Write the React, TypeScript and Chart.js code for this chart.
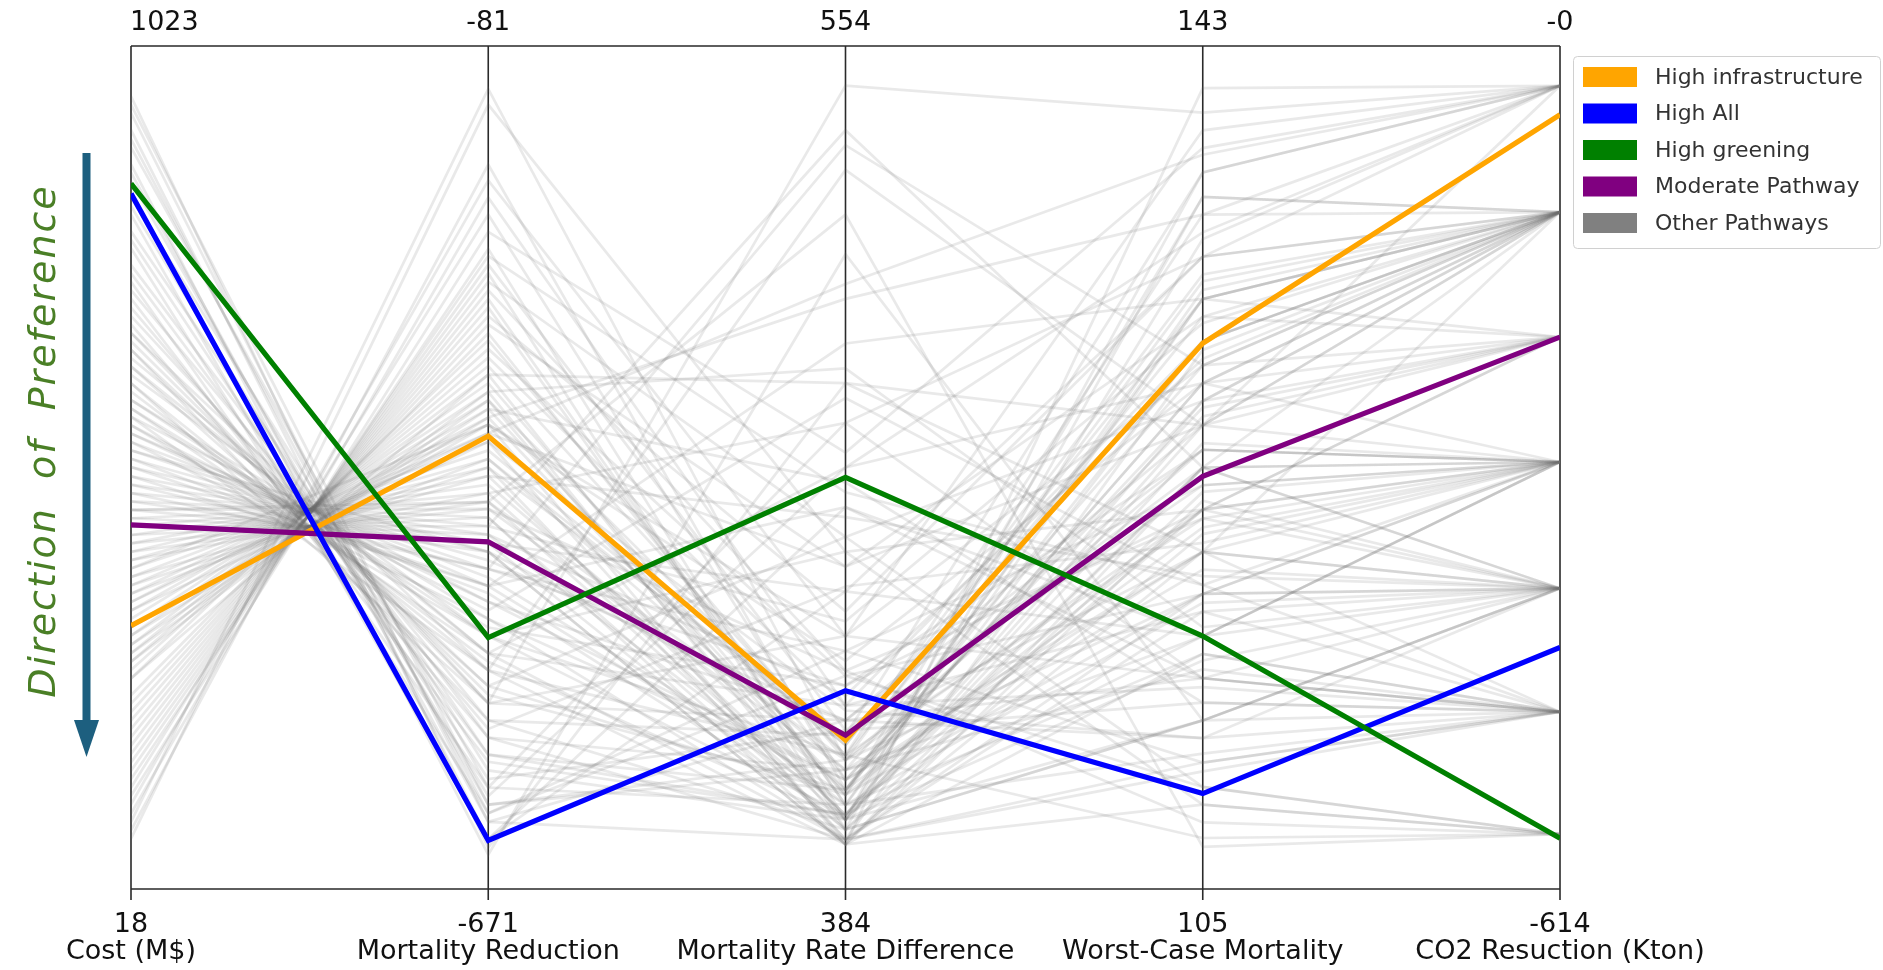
import React, { useEffect, useRef } from "react";
import { Chart, registerables } from "chart.js";

Chart.register(...registerables);

// ---------------- Data ----------------
const axisNames = [
  "Cost (M$)",
  "Mortality Reduction",
  "Mortality Rate Difference",
  "Worst-Case Mortality",
  "CO2 Resuction (Kton)",
];
const axisTopLabels = ["1023", "-81", "554", "143", "-0"];
const axisBottomLabels = ["18", "-671", "384", "105", "-614"];
const axisMax = [1023, -81, 554, 143, 0];
const axisMin = [18, -671, 384, 105, -614];

// Highlighted pathways: [cost, mortality reduction, rate difference, worst-case, CO2]
const highInfrastructure = [332, -354, 414, 129.6, -50];
const highAll = [847, -637, 424, 109.3, -438];
const highGreening = [859, -495, 467, 116.4, -577];
const moderatePathway = [452, -428, 415, 123.6, -212];

// Other pathways, one array per axis (same index = same pathway)
const otherCost = [
  963, 943, 923, 902, 882, 862, 842, 822, 802, 782, 762, 742, 732, 722, 701, 691, 681, 661,
  651, 641, 631, 621, 601, 591, 581, 571, 561, 551, 541, 531, 521, 510, 500, 490, 480, 470,
  460, 450, 440, 430, 420, 410, 400, 390, 380, 370, 360, 350, 340, 330, 320, 309, 299, 289,
  279, 269, 249, 229, 209, 189, 169, 149, 129, 108, 88, 621, 541, 470, 400, 681, 78, 98,
  953, 912, 872, 832, 792, 752, 711, 671, 611, 591, 571, 551, 531, 510, 490, 470, 450, 430,
  410, 390, 370, 350, 330, 309, 289, 269, 239, 219, 199, 179, 159, 139, 119, 641, 601, 521,
  460, 420, 380, 320, 480, 581, 360, 500, 440, 661, 299, 561,
];
const otherMortalityReduction = [
  -642, -624, -636, -600, -647, -612, -588, -636, -577, -618, -565, -600, -553, -582, -541, -565, -518, -553,
  -506, -529, -494, -518, -482, -506, -470, -494, -459, -482, -447, -464, -435, -459, -423, -447, -411, -429,
  -400, -417, -388, -405, -376, -394, -364, -382, -352, -370, -341, -358, -329, -346, -317, -335, -305, -323,
  -293, -311, -282, -270, -258, -246, -234, -223, -211, -187, -164, -541, -435, -400, -346, -541, -122, -111,
  -612, -618, -624, -606, -594, -577, -559, -535, -512, -488, -476, -453, -441, -429, -417, -405, -394, -382,
  -370, -358, -346, -335, -323, -311, -299, -287, -276, -264, -252, -240, -228, -199, -175, -506, -494, -459,
  -423, -400, -376, -341, -435, -518, -352, -447, -411, -529, -329, -470,
];
const otherRateDifference = [
  486, 418, 444, 401, 512, 410, 398, 461, 404, 427, 394, 478, 415, 399, 435, 408, 529, 396,
  421, 403, 452, 411, 394, 469, 418, 399, 494, 406, 432, 398, 415, 461, 401, 425, 396, 444,
  410, 537, 404, 428, 394, 478, 413, 399, 449, 408, 503, 420, 398, 435, 403, 466, 411, 396,
  427, 486, 406, 440, 401, 455, 416, 398, 472, 421, 404, 546, 393, 520, 393, 418, 452, 410,
  408, 432, 394, 469, 416, 399, 445, 404, 398, 425, 483, 403, 418, 396, 438, 408, 399, 459,
  413, 394, 430, 404, 489, 398, 421, 410, 449, 401, 428, 396, 464, 406, 435, 394, 411, 401,
  423, 398, 415, 403, 393, 393, 506, 534, 393, 455, 411, 406,
];
const otherWorstCase = [
  120.2, 125.9, 116.4, 131.6, 112.6, 122.1, 137.3, 114.5, 127.8, 118.3, 110.7, 133.5, 124.0, 116.4, 139.2, 120.2, 125.9, 112.6,
  129.7, 122.1, 108.8, 135.4, 118.3, 127.8, 114.5, 124.0, 131.6, 120.2, 110.7, 125.9, 137.3, 116.4, 129.7, 122.1, 112.6, 133.5,
  118.3, 124.0, 127.8, 108.0, 120.2, 114.5, 131.6, 122.1, 125.9, 116.4, 135.4, 111.8, 124.0, 128.6, 118.3, 113.4, 130.8, 121.0,
  109.6, 125.9, 119.4, 133.5, 115.6, 127.0, 123.2, 112.6, 138.4, 117.5, 129.7, 140.0, 108.8, 106.9, 141.1, 124.8, 122.1, 132.4,
  128.6, 123.2, 117.5, 134.6, 113.4, 127.0, 120.6, 131.6, 115.3, 124.8, 118.7, 136.2, 111.8, 122.9, 130.5, 114.9, 126.3, 119.1,
  132.7, 110.3, 127.8, 121.3, 116.8, 134.3, 114.1, 124.8, 130.8, 111.1, 121.7, 136.2, 118.7, 126.7, 114.5, 129.3, 121.7, 117.9,
  128.9, 125.1, 120.2, 132.0, 115.6, 124.0, 138.1, 128.6, 122.5, 109.6, 107.3, 127.0,
];
const otherCO2 = [
  -121, -29, -303, -121, -395, -212, -29, -485, -121, -303, -485, -121, -395, -303, -29, -485, -212, -395,
  -121, -303, -574, -121, -395, -303, -485, -121, -212, -395, -485, -303, -29, -395, -121, -303, -485, -121,
  -303, -395, -212, -574, -303, -485, -121, -395, -121, -303, -29, -485, -303, -121, -395, -485, -212, -303,
  -574, -121, -395, -29, -485, -121, -303, -395, -29, -485, -121, -29, -574, -574, -29, -303, -212, -121,
  -121, -303, -395, -29, -485, -212, -303, -121, -395, -303, -485, -121, -395, -303, -121, -485, -212, -395,
  -121, -485, -121, -303, -395, -29, -485, -303, -121, -485, -395, -121, -303, -212, -395, -121, -303, -395,
  -121, -303, -395, -121, -485, -303, -29, -212, -395, -574, -574, -121,
];

const legendLabels = ["High infrastructure", "High All", "High greening", "Moderate Pathway", "Other Pathways"];
const legendColors = ["#FFA500", "#0000FF", "#008000", "#800080", "#808080"];

// ---------------- Helpers ----------------
function toPoints(values: number[]) {
  return values.map((v, i) => ({ x: i, y: (v - axisMin[i]) / (axisMax[i] - axisMin[i]) }));
}

const FONT = '"DejaVu Sans", sans-serif';

const parallelPlugin = {
  id: "parallelAxes",
  beforeDatasetsDraw(chart: any) {
    const { ctx, chartArea: a, scales } = chart;
    const xs = scales.x;
    ctx.save();
    ctx.strokeStyle = "#2a2a2a";
    ctx.lineWidth = 1.6;
    ctx.beginPath();
    ctx.moveTo(a.left, a.top);
    ctx.lineTo(a.right, a.top);
    ctx.moveTo(a.left, a.bottom);
    ctx.lineTo(a.right, a.bottom);
    axisNames.forEach((_, i) => {
      const x = xs.getPixelForValue(i);
      ctx.moveTo(x, a.top);
      ctx.lineTo(x, a.bottom + 11);
    });
    ctx.stroke();
    ctx.restore();
  },
  afterDraw(chart: any) {
    const { ctx, scales } = chart;
    const xs = scales.x;
    ctx.save();
    // axis labels
    ctx.fillStyle = "#111";
    ctx.font = `27px ${FONT}`;
    ctx.textBaseline = "middle";
    axisNames.forEach((name, i) => {
      const x = xs.getPixelForValue(i);
      ctx.textAlign = i === 0 ? "left" : "center";
      ctx.fillText(axisTopLabels[i], i === 0 ? x - 1 : x, 23);
      ctx.textAlign = "center";
      ctx.fillText(axisBottomLabels[i], x, 925);
      ctx.fillText(name, x, 952);
    });

    // legend
    const lx = 1573, ly = 56, lw = 307, lh = 192;
    ctx.fillStyle = "rgba(255,255,255,0.9)";
    ctx.strokeStyle = "#d0d0d0";
    ctx.lineWidth = 1;
    ctx.beginPath();
    (ctx as any).roundRect(lx + 0.5, ly + 0.5, lw, lh, 4);
    ctx.fill();
    ctx.stroke();
    ctx.font = `22px ${FONT}`;
    ctx.textAlign = "left";
    legendLabels.forEach((lab, i) => {
      const cy = 77 + i * 36.5;
      ctx.fillStyle = legendColors[i];
      ctx.fillRect(1583, cy - 10, 54, 20);
      ctx.fillStyle = "#333";
      ctx.fillText(lab, 1655, cy + 1);
    });

    // direction arrow
    ctx.fillStyle = "#1d5f7f";
    ctx.fillRect(82.5, 153, 8, 570);
    ctx.beginPath();
    ctx.moveTo(74, 720);
    ctx.lineTo(99, 720);
    ctx.lineTo(86.5, 757);
    ctx.closePath();
    ctx.fill();

    // direction text
    ctx.translate(45, 441);
    ctx.rotate(-Math.PI / 2);
    ctx.fillStyle = "#4a7f26";
    ctx.font = `italic 38px ${FONT}`;
    (ctx as any).letterSpacing = "2px";
    ctx.textAlign = "center";
    ctx.textBaseline = "middle";
    ctx.fillText("Direction  of  Preference", 0, 0);
    ctx.restore();
  },
};

export default function App() {
  const ref = useRef<HTMLCanvasElement | null>(null);
  useEffect(() => {
    if (!ref.current) return;
    const greyDatasets = otherCost.map((_, k) => ({
      label: "Other Pathways",
      data: toPoints([
        otherCost[k],
        otherMortalityReduction[k],
        otherRateDifference[k],
        otherWorstCase[k],
        otherCO2[k],
      ]),
      borderColor: "rgba(110,110,110,0.15)",
      borderWidth: 2.7,
      pointRadius: 0,
      tension: 0,
      order: 10,
    }));
    const main = [
      { label: "High infrastructure", vals: highInfrastructure, color: "#FFA500", order: 4 },
      { label: "Moderate Pathway", vals: moderatePathway, color: "#800080", order: 3 },
      { label: "High All", vals: highAll, color: "#0000FF", order: 2 },
      { label: "High greening", vals: highGreening, color: "#008000", order: 1 },
    ].map((d) => ({
      label: d.label,
      data: toPoints(d.vals),
      borderColor: d.color,
      borderWidth: 5.2,
      pointRadius: 0,
      tension: 0,
      order: d.order,
    }));
    const chart = new Chart(ref.current, {
      type: "line",
      data: { datasets: [...greyDatasets, ...main] as any },
      options: {
        animation: false,
        responsive: false,
        devicePixelRatio: 1,
        layout: { padding: { left: 131, right: 323, top: 46, bottom: 81 } },
        scales: {
          x: { type: "linear", min: 0, max: 4, display: false },
          y: { type: "linear", min: 0, max: 1, display: false },
        },
        plugins: { legend: { display: false }, tooltip: { enabled: false } },
      },
      plugins: [parallelPlugin],
    });
    return () => chart.destroy();
  }, []);
  return (
    <div style={{ position: "fixed", left: 0, top: 0, width: 1883, height: 970, background: "#fff" }}>
      <canvas ref={ref} width={1883} height={970} style={{ width: 1883, height: 970 }} />
    </div>
  );
}
